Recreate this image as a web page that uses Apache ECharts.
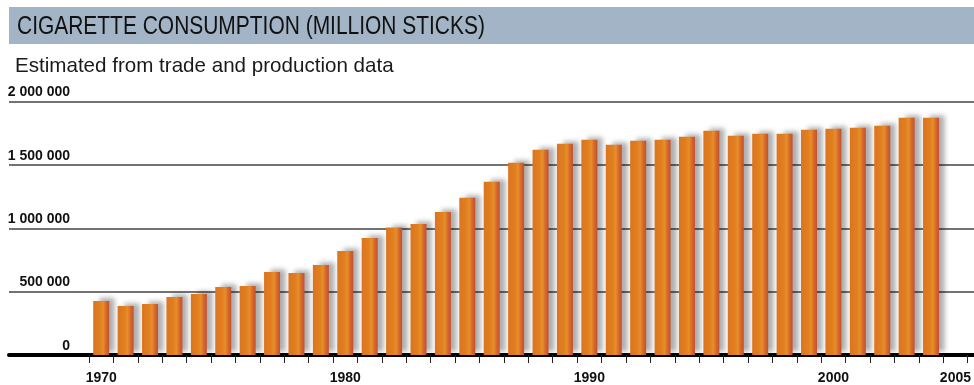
<!DOCTYPE html>
<html>
<head>
<meta charset="utf-8">
<script src="https://cdn.jsdelivr.net/npm/echarts@6/dist/echarts.min.js"></script>
<style>
  html, body { margin: 0; padding: 0; background: #ffffff; }
  #chart { width: 974px; height: 385px; }
</style>
</head>
<body>
<div id="chart"></div>
<script>
// Cigarette consumption, million sticks per year
const years = ['1970','1971','1972','1973','1974','1975','1976','1977','1978','1979',
  '1980','1981','1982','1983','1984','1985','1986','1987','1988','1989',
  '1990','1991','1992','1993','1994','1995','1996','1997','1998','1999',
  '2000','2001','2002','2003','2004','2005'];
const consumption = [426000, 387000, 403000, 458000, 482000, 537000, 545000, 655000, 647000, 711000,
  821000, 924000, 1005000, 1034000, 1129000, 1240000, 1366000, 1516000, 1619000, 1666000,
  1698000, 1658000, 1690000, 1698000, 1721000, 1769000, 1729000, 1745000, 1745000, 1777000,
  1785000, 1792000, 1808000, 1871000, 1871000, null];
const labelledYears = ['1970', '1980', '1990', '2000', '2005'];
const yMax = 2000000;
const yStep = 500000;

const titleText = 'CIGARETTE CONSUMPTION (MILLION STICKS)';
const subtitleText = 'Estimated from trade and production data';

function groupThousands(v) {
  return String(v).replace(/\B(?=(\d{3})+(?!\d))/g, ' ');
}

const chart = echarts.init(document.getElementById('chart'), null, { renderer: 'canvas' });

const barFill = new echarts.graphic.LinearGradient(0, 0, 1, 0, [
  { offset: 0, color: '#dc741f' },
  { offset: 0.45, color: '#e1801f' },
  { offset: 0.62, color: '#e68f2a' },
  { offset: 0.8, color: '#d8692a' },
  { offset: 1, color: '#c24f30' }
]);

chart.setOption({
  backgroundColor: '#ffffff',
  animation: false,
  graphic: [
    { type: 'rect', shape: { x: 9, y: 7, width: 965, height: 37 }, style: { fill: '#a3b4c6' }, silent: true },
    { type: 'text', x: 17, y: 27, scaleX: 0.838, style: { x: 0, y: 0, text: titleText,
        font: '25px "Liberation Sans", Arial, sans-serif', fill: '#111111', verticalAlign: 'middle' } },
    { type: 'text', x: 15, y: 66, scaleX: 0.98, style: { x: 0, y: 0, text: subtitleText,
        font: '21px "Liberation Sans", Arial, sans-serif', fill: '#1a1a1a', verticalAlign: 'middle' } }
  ],
  grid: [
    // full-width frame carrying the value gridlines and the baseline
    { left: 9, right: 0, top: 101.5, bottom: 30 },
    // plotting area for the yearly bars
    { left: 89, right: 5, top: 101.5, bottom: 30 }
  ],
  xAxis: [
    {
      gridIndex: 0, type: 'value', min: 0, max: 1, offset: 2,
      axisLine: { show: true, lineStyle: { color: '#000000', width: 4 } },
      axisTick: { show: false }, axisLabel: { show: false }, splitLine: { show: false }
    },
    {
      gridIndex: 1, type: 'category', data: years, boundaryGap: true,
      axisLine: { show: false },
      axisTick: { show: true, interval: 0, length: 8, lineStyle: { color: '#222222', width: 1 } },
      axisLabel: {
        interval: function (i, v) { return labelledYears.indexOf(v) >= 0; },
        margin: 16, color: '#111111', fontWeight: 'bold', fontSize: 14,
        fontFamily: '"Liberation Sans", Arial, sans-serif'
      }
    }
  ],
  yAxis: [
    {
      gridIndex: 0, type: 'value', min: 0, max: yMax, interval: yStep,
      axisLine: { show: false }, axisTick: { show: false },
      splitLine: { show: true, lineStyle: { color: '#444444', width: 1.5 } },
      axisLabel: {
        inside: true, margin: 61, align: 'right', verticalAlign: 'bottom',
        padding: [0, 0, 2, 0],
        color: '#111111', fontWeight: 'bold', fontSize: 14,
        fontFamily: '"Liberation Sans", Arial, sans-serif',
        formatter: groupThousands
      }
    },
    {
      gridIndex: 1, type: 'value', min: 0, max: yMax, interval: yStep, show: false,
      splitLine: { show: false }
    }
  ],
  series: [
    {
      type: 'bar', xAxisIndex: 1, yAxisIndex: 1, data: consumption, barWidth: 16,
      itemStyle: {
        color: barFill,
        shadowColor: 'rgba(0,0,0,0.32)', shadowBlur: 5, shadowOffsetX: 6, shadowOffsetY: -3
      }
    }
  ]
});
</script>
</body>
</html>
